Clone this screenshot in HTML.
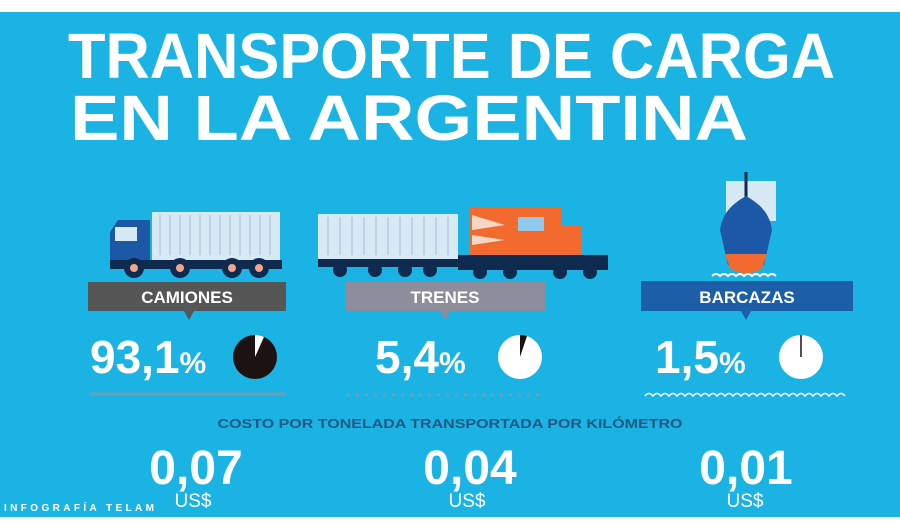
<!DOCTYPE html>
<html><head><meta charset="utf-8"><style>
html,body{margin:0;padding:0;background:#fff}
svg{display:block}
text{font-family:"Liberation Sans",sans-serif;font-weight:bold}
</style></head><body>
<svg width="900" height="530" viewBox="0 0 900 530">
<rect x="0" y="0" width="900" height="530" fill="#fff"/>
<rect x="0" y="12" width="900" height="505" fill="#1ab3e4"/>
<text x="68" y="78" font-size="64" fill="#fff" textLength="767" lengthAdjust="spacingAndGlyphs">TRANSPORTE DE CARGA</text>
<text x="70" y="140" font-size="64" fill="#fff" textLength="678" lengthAdjust="spacingAndGlyphs">EN LA ARGENTINA</text>

<!-- truck -->
<rect x="152" y="212" width="128" height="48" fill="#d6e9f5"/>
<g stroke="#b3cde0" stroke-width="1.5">
<line x1="160" y1="215" x2="160" y2="255"/><line x1="170" y1="215" x2="170" y2="255"/><line x1="180" y1="215" x2="180" y2="255"/><line x1="190" y1="215" x2="190" y2="255"/><line x1="200" y1="215" x2="200" y2="255"/><line x1="210" y1="215" x2="210" y2="255"/><line x1="220" y1="215" x2="220" y2="255"/><line x1="230" y1="215" x2="230" y2="255"/><line x1="240" y1="215" x2="240" y2="255"/><line x1="250" y1="215" x2="250" y2="255"/><line x1="260" y1="215" x2="260" y2="255"/><line x1="270" y1="215" x2="270" y2="255"/>
</g>
<path d="M110 232 L118 220 L150 220 L150 268 L110 268 Z" fill="#1d58a6"/>
<rect x="115" y="227" width="22" height="14" fill="#d6e9f5"/>
<rect x="110" y="260" width="172" height="9" fill="#0f2a4f"/>
<g fill="#0f2a4f"><circle cx="134" cy="268" r="10"/><circle cx="180" cy="268" r="10"/><circle cx="232" cy="268" r="10"/><circle cx="259" cy="268" r="10"/></g>
<g fill="#f3a48a"><circle cx="134" cy="268" r="4"/><circle cx="180" cy="268" r="4"/><circle cx="232" cy="268" r="4"/><circle cx="259" cy="268" r="4"/></g>

<!-- train -->
<rect x="318" y="214" width="140" height="45" fill="#d6e9f5"/>
<g stroke="#b3cde0" stroke-width="1.5">
<line x1="328" y1="217" x2="328" y2="255"/><line x1="340" y1="217" x2="340" y2="255"/><line x1="352" y1="217" x2="352" y2="255"/><line x1="364" y1="217" x2="364" y2="255"/><line x1="376" y1="217" x2="376" y2="255"/><line x1="388" y1="217" x2="388" y2="255"/><line x1="400" y1="217" x2="400" y2="255"/><line x1="412" y1="217" x2="412" y2="255"/><line x1="424" y1="217" x2="424" y2="255"/><line x1="436" y1="217" x2="436" y2="255"/><line x1="448" y1="217" x2="448" y2="255"/>
</g>
<rect x="318" y="259" width="140" height="8" fill="#0f2a4f"/>
<rect x="470" y="208" width="92" height="47" fill="#f26a2e"/>
<rect x="560" y="225" width="22" height="30" fill="#f26a2e"/>
<rect x="518" y="217" width="26" height="14" fill="#8ec8ea"/>
<path d="M472 215 L505 225 L472 230 Z M472 235 L505 240 L472 245 Z" fill="#f8d6c5"/>
<rect x="458" y="255" width="150" height="15" fill="#0f2a4f"/>
<g fill="#0f2a4f"><circle cx="340" cy="270" r="7"/><circle cx="375" cy="270" r="7"/><circle cx="405" cy="270" r="7"/><circle cx="430" cy="270" r="7"/><circle cx="480" cy="272" r="7"/><circle cx="510" cy="272" r="7"/><circle cx="560" cy="272" r="7"/><circle cx="590" cy="272" r="7"/></g>

<!-- ship -->
<rect x="726" y="181" width="50" height="40" fill="#d6e9f5"/>
<line x1="746" y1="172" x2="746" y2="200" stroke="#0f2a4f" stroke-width="3"/>
<path d="M746 196 C730 205 722 215 720 230 L728 265 L764 265 L772 230 C770 215 762 205 746 196 Z" fill="#1d58a6"/>
<path d="M725 254 L767 254 L762 268 C755 275 737 275 730 268 Z" fill="#f26a2e"/>
<path d="M712 276 q4 -4 8 0 q4 -4 8 0 q4 -4 8 0 q4 -4 8 0 q4 -4 8 0 q4 -4 8 0 q4 -4 8 0 q4 -4 8 0" fill="none" stroke="#fff" stroke-width="2"/>

<!-- labels -->
<rect x="88" y="282" width="198" height="29" fill="#565656"/>
<path d="M184 311 L194 311 L189 320 Z" fill="#565656"/>
<text x="187" y="303" font-size="17" fill="#fff" text-anchor="middle">CAMIONES</text>
<rect x="345" y="282" width="200" height="29" fill="#8d8d9b"/>
<path d="M440 311 L450 311 L445 320 Z" fill="#8d8d9b"/>
<text x="445" y="303" font-size="17" fill="#fff" text-anchor="middle">TRENES</text>
<rect x="641" y="281" width="212" height="30" fill="#1c5ea8"/>
<path d="M741 311 L751 311 L746 320 Z" fill="#1c5ea8"/>
<text x="747" y="303" font-size="17" fill="#fff" text-anchor="middle">BARCAZAS</text>

<!-- percents -->
<text x="90" y="373" font-size="46" fill="#fff">93,1<tspan font-size="30">%</tspan></text>
<circle cx="255" cy="357" r="22" fill="#1d1212"/>
<path d="M255 357 L255 335 A22 22 0 0 1 264 337 Z" fill="#fff"/>
<text x="375" y="373" font-size="46" fill="#fff">5,4<tspan font-size="30">%</tspan></text>
<circle cx="520" cy="357" r="22" fill="#fff"/>
<path d="M520 357 L520 335 A22 22 0 0 1 527 336 Z" fill="#1d1212"/>
<text x="655" y="373" font-size="46" fill="#fff">1,5<tspan font-size="30">%</tspan></text>
<circle cx="801" cy="357" r="22" fill="#fff"/>
<line x1="801" y1="357" x2="801" y2="335" stroke="#1d1212" stroke-width="1.5"/>

<line x1="90" y1="394" x2="285" y2="394" stroke="#6aa0bf" stroke-width="3"/>
<line x1="347" y1="395" x2="545" y2="395" stroke="#6aa0bf" stroke-width="3" stroke-dasharray="3 6"/>
<path d="M645 396 q4 -5 8 0 q4 -5 8 0 q4 -5 8 0 q4 -5 8 0 q4 -5 8 0 q4 -5 8 0 q4 -5 8 0 q4 -5 8 0 q4 -5 8 0 q4 -5 8 0 q4 -5 8 0 q4 -5 8 0 q4 -5 8 0 q4 -5 8 0 q4 -5 8 0 q4 -5 8 0 q4 -5 8 0 q4 -5 8 0 q4 -5 8 0 q4 -5 8 0 q4 -5 8 0 q4 -5 8 0 q4 -5 8 0 q4 -5 8 0 q4 -5 8 0" fill="none" stroke="#fff" stroke-width="1.5"/>

<text x="450" y="428" font-size="13" fill="#1e5a85" text-anchor="middle" textLength="465" lengthAdjust="spacingAndGlyphs">COSTO POR TONELADA TRANSPORTADA POR KILÓMETRO</text>
<text x="196" y="484" font-size="48" fill="#fff" text-anchor="middle">0,07</text>
<text x="470" y="484" font-size="48" fill="#fff" text-anchor="middle">0,04</text>
<text x="746" y="484" font-size="48" fill="#fff" text-anchor="middle">0,01</text>
<text x="193" y="507" font-size="19" fill="#fff" text-anchor="middle" font-weight="normal" style="font-weight:normal">US$</text>
<text x="467" y="507" font-size="19" fill="#fff" text-anchor="middle" style="font-weight:normal">US$</text>
<text x="745" y="507" font-size="19" fill="#fff" text-anchor="middle" style="font-weight:normal">US$</text>
<text x="4" y="511" font-size="10" fill="#fff" textLength="150" lengthAdjust="spacing">INFOGRAFÍA TELAM</text>
</svg>
</body></html>
